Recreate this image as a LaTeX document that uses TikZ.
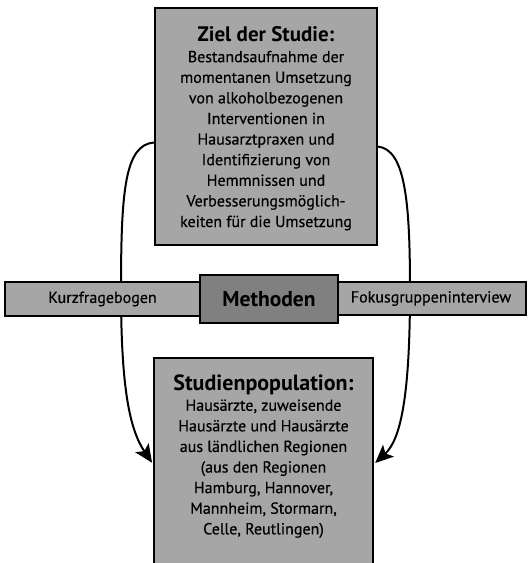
\documentclass[tikz,border=0pt]{standalone}
\usepackage{fontspec}
\setmainfont{PT Sans}[FakeBold=0.4,BoldFeatures={FakeBold=0}]
\usetikzlibrary{arrows.meta}
\definecolor{boxgray}{HTML}{A6A6A6}
\definecolor{darkgray}{HTML}{808080}
\newcommand\mytitlefont{\fontsize{21}{24}\selectfont\bfseries}
\tikzset{
  box/.style={draw=black, line width=2.2pt, fill=boxgray, rectangle, inner sep=0pt, align=center},
  darkbox/.style={box, fill=darkgray},
  conn/.style={line width=2pt, shorten >=1.5pt, -{Stealth[length=18pt,width=16pt,inset=4pt]}},
  bodytext/.style={font=\fontsize{16}{20.6}\selectfont, align=center},
}
\begin{document}
\begin{tikzpicture}[x=1pt,y=-1pt]
\clip (0,0) rectangle (528,563);
\useasboundingbox (0,0) rectangle (528,563);
\fill[white] (0,0) rectangle (528,563);
% boxes (positions only)
\node[box, minimum width=222pt, minimum height=237pt] (aim) at (266,126.5) {};
\node[box, minimum width=219pt, minimum height=212pt] (pop) at (263.5,464) {};
% connectors (behind middle row)
\draw[conn] ([yshift=-16pt]aim.west) .. controls (125,145) and (121,190) .. (121,290)
  .. controls (121,390) and (130,430) .. (pop.west);
\draw[conn] ([yshift=-20pt]aim.east) .. controls (405,150) and (410,200) .. (410,290)
  .. controls (410,400) and (400,440) .. (pop.east);
% middle row
\node[box, minimum width=195pt, minimum height=34pt, font=\fontsize{16}{18}\selectfont] (kurz) at (102.5,299) {Kurzfragebogen};
\node[box, minimum width=190pt, minimum height=33pt, font=\fontsize{16}{18}\selectfont] (fokus) at (431,298.5) {Fokusgruppeninterview};
\node[darkbox, minimum width=138pt, minimum height=48pt, font=\fontsize{21.5}{24}\selectfont\bfseries] (meth) at (269,299) {Methoden};
% texts
\node[bodytext] (aimtext) at ([yshift=-2pt]aim.center) {{\mytitlefont Ziel der Studie:}\\
Bestandsaufnahme der\\
momentanen Umsetzung\\
von alkoholbezogenen\\
Interventionen in\\
Hausarztpraxen und\\
Identifizierung von\\
Hemmnissen und\\
Verbesserungsmöglich-\\
keiten für die Umsetzung};
\node[bodytext, anchor=north] (poptext) at ([yshift=-14pt]pop.north) {{\fontsize{22}{24}\selectfont\bfseries Studienpopulation:}\\
Hausärzte, zuweisende\\
Hausärzte und Hausärzte\\
aus ländlichen Regionen\\
(aus den Regionen\\
Hamburg, Hannover,\\
Mannheim, Stormarn,\\
Celle, Reutlingen)};
\end{tikzpicture}
\end{document}
